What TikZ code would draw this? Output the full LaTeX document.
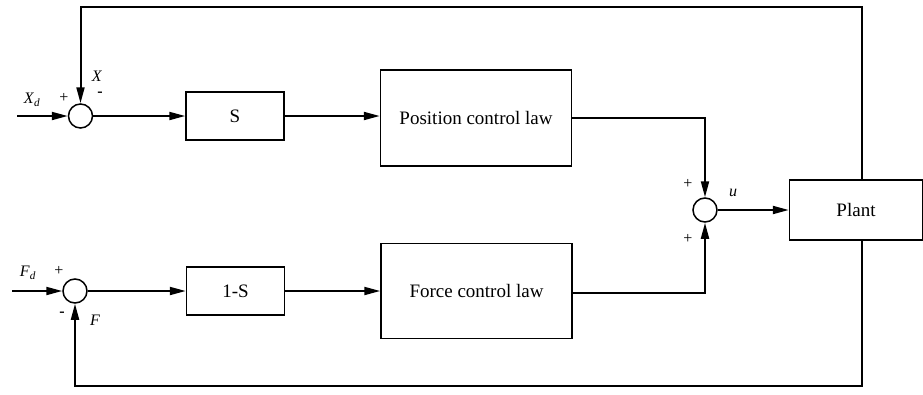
\documentclass[tikz,border=0pt]{standalone}
\usepackage{fontspec}
\setmainfont{Liberation Serif}
\usetikzlibrary{arrows.meta, positioning, calc}

\begin{document}
\begin{tikzpicture}[
      x=1pt, y=1pt,
      node distance=92pt and 92pt,
      box/.style={draw, line width=1.5pt, align=center, font=\fontsize{19}{22}\selectfont,
                  inner sep=0pt},
      sum/.style={draw, circle, line width=1.5pt, minimum size=24pt, inner sep=0pt},
      lbl/.style={font=\fontsize{16}{18}\selectfont, inner sep=1pt},
      arr/.style={-{Triangle[length=16pt, width=8pt]}, line width=2pt},
      wire/.style={line width=2pt}
    ]
    \useasboundingbox (0,0) rectangle (923,-394);
    % position branch
    \node[sum] (sumx) at (80.5,-116) {};
    \node[box, minimum width=98pt, minimum height=48pt, right=92pt of sumx] (s) {S};
    \node[box, minimum width=191pt, minimum height=96pt, right=95pt of s, yshift=-2pt] (pos) {Position control law};

    % force branch
    \node[sum] (sumf) at (75,-291) {};
    \node[box, minimum width=98pt, minimum height=48pt, right=98pt of sumf] (ones) {1-S};
    \node[box, minimum width=191pt, minimum height=95pt, right=95pt of ones] (force) {Force control law};

    % output
    \node[sum] (sumu) at (705,-210) {};
    \node[box, minimum width=133pt, minimum height=60pt, right=71pt of sumu] (plant) {Plant};

    \coordinate (xin) at (17,-116);
    \coordinate (fin) at (12,-291);
    \coordinate (fbtop) at (862,-7);
    \coordinate (fbbot) at (862,-386);

    \draw[arr] (xin) -- (sumx.west);
    \draw[arr] (sumx.east) -- (s.west);
    \draw[arr] (s.east) -- (s.east -| pos.west);
    \draw[arr] (pos.east |- 0,-118) -| (sumu.north);
    \draw[arr] (fin) -- (sumf.west);
    \draw[arr] (sumf.east) -- (ones.west);
    \draw[arr] (ones.east) -- (ones.east -| force.west);
    \draw[arr] (force.east |- 0,-293) -| (sumu.south);
    \draw[arr] (sumu.east) -- (plant.west);
    \draw[arr] (plant.north -| fbtop) -- (fbtop) -| (sumx.north);
    \draw[arr] (plant.south -| fbbot) -- (fbbot) -| (sumf.south);

    % signs and signals
    \node[lbl] (xd) at (32,-100) {\textit{X}\textsubscript{\itshape d}};
    \node[lbl] (px) at (64,-98) {+};
    \node[lbl] (xx) at (97,-76) {\textit{X}};
    \node[lbl] (mx) at (100,-94) {\textbf{-}};
    \node[lbl] (fd) at (28,-273) {\textit{F}\textsubscript{\itshape d}};
    \node[lbl] (pf) at (59,-271) {+};
    \node[lbl] (mf) at (62,-314) {\textbf{-}};
    \node[lbl] (ff) at (95,-320) {\textit{F}};
    \node[lbl] (uu) at (733,-193) {\textit{u}};
    \node[lbl] (pu1) at (688,-184) {+};
    \node[lbl] (pu2) at (688,-239) {+};
  \end{tikzpicture}
\end{document}
